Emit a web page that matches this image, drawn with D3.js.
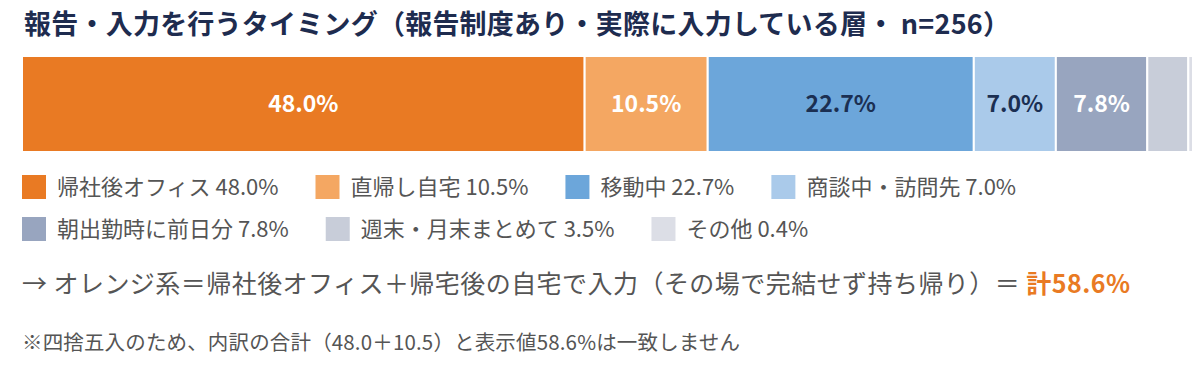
<!DOCTYPE html>
<html><head><meta charset="utf-8">
<script src="https://cdn.jsdelivr.net/npm/d3@7"></script>
<style>
html,body{margin:0;padding:0;background:#fff;}
svg text{font-family:"Noto Sans CJK JP","Noto Sans",sans-serif;}
</style></head>
<body><svg id="c" width="1200" height="368"></svg>
<script>
const categories = ["帰社後オフィス","直帰し自宅","移動中","商談中・訪問先","朝出勤時に前日分","週末・月末まとめて","その他"];
const values = [48.0, 10.5, 22.7, 7.0, 7.8, 3.5, 0.4];
const colors = ["#E97A23","#F4A762","#6CA6DA","#AACAEA","#98A5BF","#C8CDD9","#DCDEE6"];
const labelColors = ["#fff","#fff","#1B2F52","#1B2F52","#fff",null,null];
const showLabel = [true,true,true,true,true,false,false];
const legendRows = [[0,1,2,3],[4,5,6]];
const title = "報告・入力を行うタイミング（報告制度あり・実際に入力している層・ n=256）";
const noteMain = "→ オレンジ系＝帰社後オフィス＋帰宅後の自宅で入力（その場で完結せず持ち帰り）＝ ";
const noteTotal = "計58.6%";
const footnote = "※四捨五入のため、内訳の合計（48.0＋10.5）と表示値58.6%は一致しません";

const svg = d3.select("#c");
const total = d3.sum(values);
const x = d3.scaleLinear().domain([0,total]).range([22,1193]);
const y = d3.scaleBand().domain(["all"]).range([56,152]).padding(0);

let cum = 0;
const segs = values.map((v,i)=>{const s={i,v,start:cum,end:cum+v}; cum+=v; return s;});

// title
svg.append("text").attr("x",24).attr("y",34)
  .attr("font-size",27).attr("font-weight",700).attr("fill","#1E2C4F")
  .attr("textLength",986).attr("lengthAdjust","spacing")
  .text(title);

const g = svg.append("g");
g.selectAll("rect").data(segs).join("rect")
  .attr("x",d=>x(d.start)).attr("y",y("all"))
  .attr("width",d=>Math.max(0,x(d.end)-x(d.start)))
  .attr("height",y.bandwidth())
  .attr("fill",d=>colors[d.i])
  .attr("stroke","#fff").attr("stroke-width",2);

g.selectAll("text.lbl").data(segs.filter(d=>showLabel[d.i])).join("text")
  .attr("class","lbl")
  .attr("x",d=>(x(d.start)+x(d.end))/2)
  .attr("y",y("all")+y.bandwidth()/2)
  .attr("dy","0.35em").attr("text-anchor","middle")
  .attr("font-size",23).attr("font-weight",700)
  .attr("fill",d=>labelColors[d.i])
  .text(d=>d.v.toFixed(1)+"%");

// legend (flow layout)
const legendY = [187,229];
legendRows.forEach((r,ri)=>{
  let cx = 22;
  r.forEach(ci=>{
    const lg = svg.append("g").attr("transform",`translate(${cx},${legendY[ri]})`);
    lg.append("rect").attr("x",0).attr("y",-12).attr("width",24).attr("height",24).attr("fill",colors[ci]);
    const t = lg.append("text").attr("x",35).attr("y",0).attr("dy","0.35em")
      .attr("font-size",22).attr("fill","#555")
      .text(categories[ci]+" "+values[ci].toFixed(1)+"%");
    const w = t.node().getComputedTextLength();
    cx += 35 + w + 37;
  });
});

// note line
const nt = svg.append("text").attr("x",22).attr("y",284).attr("dy","0.35em").attr("font-size",25).attr("fill","#555")
  .attr("textLength",1108).attr("lengthAdjust","spacing");
nt.append("tspan").text(noteMain);
nt.append("tspan").attr("fill","#E97A23").attr("font-weight",700).text(noteTotal);

svg.append("text").attr("x",22).attr("y",343).attr("dy","0.35em").attr("font-size",20.5).attr("fill","#555")
  .attr("textLength",718).attr("lengthAdjust","spacing").text(footnote);
</script></body></html>
